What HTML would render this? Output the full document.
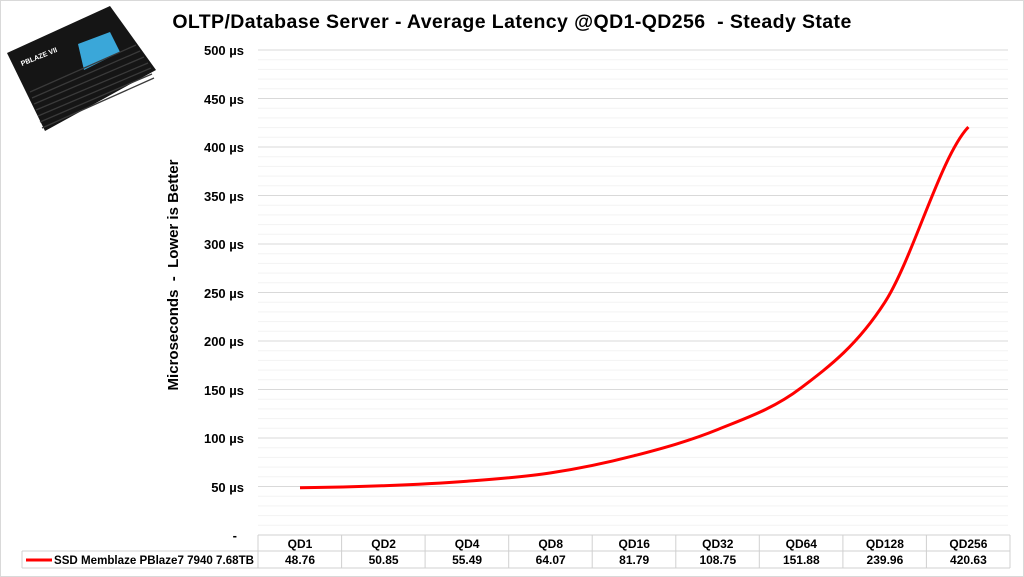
<!DOCTYPE html>
<html><head><meta charset="utf-8"><style>
body{margin:0;width:1024px;height:577px;background:#fff;overflow:hidden}
svg{display:block}
text{font-family:"Liberation Sans",Arial,sans-serif;font-weight:bold;fill:#000;white-space:pre}
</style></head><body>
<svg width="1024" height="577" viewBox="0 0 1024 577">
<rect x="0.5" y="0.5" width="1023" height="576" fill="#fff" stroke="#d9d9d9"/>
<g stroke="#f3f3f3" stroke-width="1" id="minor"></g>
<g id="grid"></g>
<text x="512" y="28" font-size="19.5" text-anchor="middle" letter-spacing="0.4" xml:space="preserve">OLTP/Database Server - Average Latency @QD1-QD256  - Steady State</text>
<text transform="translate(178,275) rotate(-90)" font-size="15" text-anchor="middle" xml:space="preserve">Microseconds  -  Lower is Better</text>
<g font-size="13" text-anchor="end">
<text x="244" y="55">500 µs</text><text x="244" y="104">450 µs</text><text x="244" y="152">400 µs</text>
<text x="244" y="201">350 µs</text><text x="244" y="249">300 µs</text><text x="244" y="298">250 µs</text>
<text x="244" y="346">200 µs</text><text x="244" y="395">150 µs</text><text x="244" y="443">100 µs</text>
<text x="244" y="492">50 µs</text><text x="237" y="540">-</text>
</g>
<!-- SSD image -->
<polygon points="7,53 110,6 156,70 45,131" fill="#151515"/>
<polygon points="78,44 110,32 120,52 84,70" fill="#3aa7d9"/>
<g stroke="#3a3a3a" stroke-width="1.3">
<line x1="30" y1="92" x2="136" y2="45"/><line x1="32" y1="98" x2="140" y2="51"/>
<line x1="34" y1="104" x2="144" y2="57"/><line x1="36" y1="110" x2="148" y2="63"/>
<line x1="38" y1="116" x2="151" y2="68"/><line x1="40" y1="122" x2="152" y2="74"/>
<line x1="42" y1="128" x2="154" y2="78"/>
</g>
<text x="22" y="66" font-size="7" style="fill:#fff" transform="rotate(-22 22 66)">PBLAZE VII</text>
<!-- table -->
<g stroke="#d0d0d0" stroke-width="1" fill="none">
<line x1="258" y1="535" x2="1010" y2="535"/>
<line x1="22" y1="551" x2="1010" y2="551"/>
<line x1="22" y1="568" x2="1010" y2="568"/>
<line x1="22" y1="551" x2="22" y2="568"/>
<line x1="1010" y1="535" x2="1010" y2="568"/>
<line x1="258" y1="535" x2="258" y2="568"/>
<line x1="341.6" y1="535" x2="341.6" y2="568"/><line x1="425.1" y1="535" x2="425.1" y2="568"/>
<line x1="508.7" y1="535" x2="508.7" y2="568"/><line x1="592.2" y1="535" x2="592.2" y2="568"/>
<line x1="675.8" y1="535" x2="675.8" y2="568"/><line x1="759.3" y1="535" x2="759.3" y2="568"/>
<line x1="842.9" y1="535" x2="842.9" y2="568"/><line x1="926.4" y1="535" x2="926.4" y2="568"/>
</g>
<g font-size="12" text-anchor="middle">
<text x="300" y="548">QD1</text><text x="383.6" y="548">QD2</text><text x="467.1" y="548">QD4</text>
<text x="550.7" y="548">QD8</text><text x="634.2" y="548">QD16</text><text x="717.8" y="548">QD32</text>
<text x="801.3" y="548">QD64</text><text x="884.9" y="548">QD128</text><text x="968.4" y="548">QD256</text>
<text x="300" y="564">48.76</text><text x="383.6" y="564">50.85</text><text x="467.1" y="564">55.49</text>
<text x="550.7" y="564">64.07</text><text x="634.2" y="564">81.79</text><text x="717.8" y="564">108.75</text>
<text x="801.3" y="564">151.88</text><text x="884.9" y="564">239.96</text><text x="968.4" y="564">420.63</text>
</g>
<line x1="26" y1="560" x2="52" y2="560" stroke="#f00" stroke-width="3"/>
<text x="54" y="564" font-size="11.5" textLength="200" lengthAdjust="spacingAndGlyphs">SSD Memblaze PBlaze7 7940 7.68TB</text>
<path d="M300 487.7 C327.9 487.4,355.8 486.8,383.6 485.7 C411.5 484.6,439.2 483.3,467.1 481.2 C495 479.1,522.8 477.2,550.7 472.9 C578.6 468.7,606.4 462.9,634.2 455.7 C662.1 448.5,690 440.8,717.8 429.5 C745.7 418.2,773.5 408.9,801.3 387.7 C829.2 366.5,857 345.6,884.9 302.2 C912.8 258.8,940.6 156.2,968.4 127" fill="none" stroke="#f00" stroke-width="3"/>
</svg>
<script>
var m=document.getElementById('minor'),g=document.getElementById('grid'),ns='http://www.w3.org/2000/svg';
for(var v=10;v<=500;v+=10){var y=535-v*0.97;var l=document.createElementNS(ns,'line');
l.setAttribute('x1',258);l.setAttribute('x2',1008);l.setAttribute('y1',y);l.setAttribute('y2',y);
if(v%50==0){l.setAttribute('stroke','#d9d9d9');g.appendChild(l);}else m.appendChild(l);}
</script>
</body></html>
